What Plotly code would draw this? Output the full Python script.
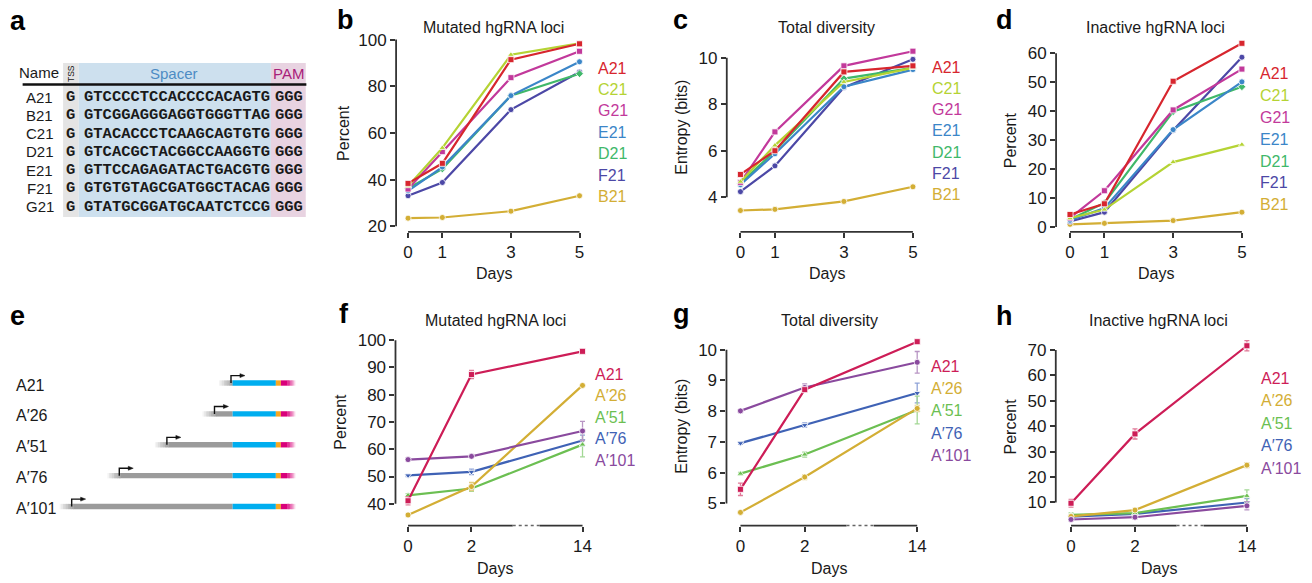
import plotly.graph_objects as go

W, H = 1312, 583
SANS = "Liberation Sans, Arial, sans-serif"
MONO = "Liberation Mono, Courier New, monospace"

# ---------------- data ----------------
days_top = [0, 1, 3, 5]
lines_top = ["A21", "C21", "G21", "E21", "D21", "F21", "B21"]
mutated_top = [
    [38.4, 47.0, 91.4, 98.2],   # A21
    [37.2, 53.6, 93.5, 98.4],   # C21
    [36.0, 52.0, 83.7, 95.0],   # G21
    [35.2, 45.4, 76.0, 90.5],   # E21
    [36.2, 44.6, 76.0, 85.4],   # D21
    [33.1, 38.8, 70.0, 86.1],   # F21
    [23.5, 23.8, 26.5, 33.1],   # B21
]
diversity_top = [
    [4.98, 6.00, 9.39, 9.65],
    [4.67, 6.23, 8.96, 9.56],
    [4.64, 6.81, 9.65, 10.28],
    [4.54, 5.87, 8.75, 9.49],
    [4.60, 5.99, 9.10, 9.56],
    [4.24, 5.35, 8.72, 9.93],
    [3.43, 3.48, 3.82, 4.45],
]
inactive_top = [
    [4.3, 8.0, 50.3, 63.4],
    [3.0, 6.0, 22.4, 28.4],
    [3.1, 12.5, 40.4, 54.5],
    [2.3, 6.5, 33.6, 50.1],
    [2.6, 8.3, 39.8, 48.4],
    [1.9, 5.1, 33.4, 58.6],
    [0.9, 1.25, 2.2, 5.1],
]

days_bottom = [0, 2, 14]
lines_bottom = ["A21", "A\u203226", "A\u203251", "A\u203276", "A\u2032101"]
mutated_bottom = [
    [41.1, 87.4, 95.9],
    [35.9, 46.3, 83.4],
    [43.1, 45.6, 61.7],
    [50.4, 51.7, 63.2],
    [56.2, 57.4, 66.7],
]
mutated_bottom_err = [
    [1.5, 1.5, 0.8],
    [0.5, 1.5, 0.6],
    [0.6, 1.0, 4.5],
    [0.4, 1.0, 2.0],
    [0.5, 0.6, 3.5],
]
diversity_bottom = [
    [5.46, 8.70, 10.26],
    [4.71, 5.86, 8.09],
    [5.97, 6.59, 8.04],
    [6.96, 7.55, 8.59],
    [8.01, 8.77, 9.59],
]
diversity_bottom_err = [
    [0.20, 0.05, 0.06],
    [0.04, 0.08, 0.10],
    [0.04, 0.08, 0.45],
    [0.04, 0.07, 0.32],
    [0.04, 0.12, 0.35],
]
inactive_bottom = [
    [9.7, 37.0, 71.7],
    [4.5, 7.0, 24.7],
    [5.1, 5.8, 12.6],
    [4.4, 5.5, 10.0],
    [3.3, 4.2, 8.7],
]
inactive_bottom_err = [
    [1.5, 2.0, 2.0],
    [0.4, 0.5, 1.0],
    [0.8, 0.6, 2.4],
    [0.5, 0.5, 1.5],
    [0.5, 0.6, 1.6],
]

table_names = ["A21", "B21", "C21", "D21", "E21", "F21", "G21"]
table_tss = ["G", "G", "G", "G", "G", "G", "G"]
table_spacers = [
    "GTCCCCTCCACCCCACAGTG",
    "GTCGGAGGGAGGTGGGTTAG",
    "GTACACCCTCAAGCAGTGTG",
    "GTCACGCTACGGCCAAGGTG",
    "GTTCCAGAGATACTGACGTG",
    "GTGTGTAGCGATGGCTACAG",
    "GTATGCGGATGCAATCTCCG",
]
table_pams = ["GGG", "GGG", "GGG", "GGG", "GGG", "GGG", "GGG"]

construct_names = ["A21", "A\u203226", "A\u203251", "A\u203276", "A\u2032101"]
construct_lengths = [21, 26, 51, 76, 101]

# ---------------- styles ----------------
colors_top = ["#d7262e", "#b5d334", "#c2399b", "#3b86c8", "#40b86a", "#4c48a6", "#d3ae35"]
symbols_top = ["square", "triangle-up", "square", "circle", "diamond", "circle", "circle"]
colors_bottom = ["#cd1d57", "#d3ae35", "#6cbf52", "#3f62b5", "#8a4a9e"]
err_colors_bottom = ["#e07a98", "#e3cc7e", "#a3d895", "#8fa3d8", "#b895c4"]
symbols_bottom = ["square", "circle", "triangle-up", "triangle-down", "circle"]
bottom_pos = {0: 0, 2: 2, 14: 5.5}   # broken axis: 14 drawn closer


def X(px):
    return px / W


def Y(py):
    return 1 - py / H


def cal(p0, p1, va, pa, vb, pb):
    k = (vb - va) / (pb - pa)
    return [va + (p0 - pa) * k, va + (p1 - pa) * k]


shapes = []
annotations = []


def rect(x0, y0, x1, y1, color, opacity=1.0):
    shapes.append(dict(type="rect", xref="paper", yref="paper",
                       x0=X(x0), x1=X(x1), y0=Y(y1), y1=Y(y0),
                       fillcolor=color, opacity=opacity, line=dict(width=0), layer="below"))


def txt(px, py, s, size, color="#1a1a1a", xa="center", ya="middle", family=SANS, angle=0):
    annotations.append(dict(x=X(px), y=Y(py), xref="paper", yref="paper", text=s,
                            showarrow=False, xanchor=xa, yanchor=ya, textangle=angle,
                            font=dict(family=family, size=size, color=color)))


fig = go.Figure()

panels = [
    dict(i=1, xd=(397.3, 592), xc=(0, 409.3, 5, 581.3), yd=(233.3, 30), yc=(100, 39.0, 20, 227.7),
         yt=[20, 40, 60, 80, 100], top=True, title="Mutated hgRNA loci", tx=495, ytitle="Percent",
         ytx=345, data=mutated_top, leg=(598.3, 67.7, 21.7)),
    dict(i=2, xd=(729, 925), xc=(0, 742.7, 5, 915.7), yd=(233.3, 30), yc=(10, 57.3, 4, 198.3),
         yt=[4, 6, 8, 10], top=True, title="Total diversity", tx=829.3, ytitle="Entropy (bits)",
         ytx=683.3, data=diversity_top, leg=(933.3, 66.7, 21.5)),
    dict(i=3, xd=(1059.3, 1255), xc=(0, 1073.3, 5, 1245.7), yd=(233.3, 30), yc=(60, 52.7, 0, 228.3),
         yt=[0, 10, 20, 30, 40, 50, 60], top=True, title="Inactive hgRNA loci", tx=1159,
         ytitle="Percent", ytx=1013.3, data=inactive_top, leg=(1261.7, 73.3, 22.1)),
    dict(i=4, xd=(396.7, 592), xc=(0, 409.3, 5.5, 584.3), yd=(530, 335), yc=(100, 342.7, 40, 508.0),
         yt=[40, 50, 60, 70, 80, 90, 100], top=False, title="Mutated hgRNA loci", tx=496.7,
         ytitle="Percent", ytx=341.7, data=mutated_bottom, err=mutated_bottom_err,
         leg=(595, 377.3, 21.7)),
    dict(i=5, xd=(728.7, 925), xc=(0, 742.7, 5.5, 920), yd=(530, 335), yc=(10, 352.3, 5, 507.7),
         yt=[5, 6, 7, 8, 9, 10], top=False, title="Total diversity", tx=831.7,
         ytitle="Entropy (bits)", ytx=683.3, data=diversity_bottom, err=diversity_bottom_err,
         leg=(931.7, 369, 22.6)),
    dict(i=6, xd=(1059, 1258), xc=(0, 1074.3, 5.5, 1250.7), yd=(530, 335), yc=(70, 352.7, 10, 506.7),
         yt=[10, 20, 30, 40, 50, 60, 70], top=False, title="Inactive hgRNA loci", tx=1161.7,
         ytitle="Percent", ytx=1013.3, data=inactive_bottom, err=inactive_bottom_err,
         leg=(1262.7, 381, 22.8)),
]

layout_axes = {}
for p in panels:
    i = p["i"]
    xa = "x" if i == 1 else f"x{i}"
    ya = "y" if i == 1 else f"y{i}"
    xkey = "xaxis" if i == 1 else f"xaxis{i}"
    ykey = "yaxis" if i == 1 else f"yaxis{i}"
    xrng = cal(p["xd"][0], p["xd"][1], *p["xc"])
    yrng = cal(p["yd"][0], p["yd"][1], *p["yc"])
    common = dict(showgrid=False, zeroline=False, showline=False, ticks="outside", ticklen=5,
                  tickwidth=1.6, tickcolor="#333", fixedrange=True,
                  tickfont=dict(family=SANS, size=17, color="#1a1a1a"))
    if p["top"]:
        xt = dict(tickvals=days_top, ticktext=[str(d) for d in days_top])
    else:
        xt = dict(tickvals=[bottom_pos[d] for d in days_bottom], ticktext=[str(d) for d in days_bottom])
    layout_axes[xkey] = dict(domain=[X(p["xd"][0]), X(p["xd"][1])], range=xrng, anchor=ya,
                             tickmode="array", **xt, **common)
    layout_axes[ykey] = dict(domain=[Y(p["yd"][0]), Y(p["yd"][1])], range=yrng, anchor=xa,
                             tickmode="array", tickvals=p["yt"], ticktext=[str(v) for v in p["yt"]],
                             **common)

    axc = "#333"
    shapes.append(dict(type="line", xref=f"{xa} domain", yref=ya, x0=0, x1=0,
                       y0=min(p["yt"]), y1=max(p["yt"]), line=dict(color=axc, width=1.8)))
    if p["top"]:
        shapes.append(dict(type="line", xref=xa, yref=f"{ya} domain", x0=0, x1=5, y0=0, y1=0,
                           line=dict(color=axc, width=1.8)))
    else:
        shapes.append(dict(type="line", xref=xa, yref=f"{ya} domain", x0=0, x1=3.3, y0=0, y1=0,
                           line=dict(color=axc, width=1.8)))
        shapes.append(dict(type="line", xref=xa, yref=f"{ya} domain", x0=3.3, x1=4.15, y0=0, y1=0,
                           line=dict(color="#666", width=1.6, dash="dot")))
        shapes.append(dict(type="line", xref=xa, yref=f"{ya} domain", x0=4.15, x1=5.5, y0=0, y1=0,
                           line=dict(color=axc, width=1.8)))

    if p["top"]:
        names, cols, syms = lines_top, colors_top, symbols_top
        for k in list(range(len(names)))[::-1]:
            fig.add_trace(go.Scatter(
                x=days_top, y=p["data"][k], xaxis=xa, yaxis=ya, mode="lines+markers",
                line=dict(color=cols[k], width=2.2),
                marker=dict(symbol=syms[k], size=6, color=cols[k], line=dict(color="white", width=0.8)),
                showlegend=False, cliponaxis=False, name=names[k]))
    else:
        names, cols, syms = lines_bottom, colors_bottom, symbols_bottom
        for k in [3, 2, 1, 4, 0]:
            fig.add_trace(go.Scatter(
                x=[bottom_pos[d] for d in days_bottom], y=p["data"][k], xaxis=xa, yaxis=ya,
                mode="lines+markers",
                line=dict(color=cols[k], width=2.2),
                marker=dict(symbol=syms[k], size=6, color=cols[k], line=dict(color="white", width=0.8)),
                error_y=dict(type="data", array=p["err"][k], color=err_colors_bottom[k],
                             thickness=1.3, width=2.5),
                showlegend=False, cliponaxis=False, name=names[k]))

    ttl_y = 26.7 if p["top"] else 322.7
    txt(p["tx"], ttl_y, p["title"], 16)
    x0px, x1px = p["xc"][1], p["xc"][3]
    txt((x0px + x1px) / 2, 275 if p["top"] else 573, "Days", 16)
    yv = p["yc"]
    k = (yv[3] - yv[1]) / (yv[2] - yv[0])
    py_top = yv[1] + (max(p["yt"]) - yv[0]) * k
    py_bot = yv[1] + (min(p["yt"]) - yv[0]) * k
    txt(p["ytx"], (py_top + py_bot) / 2, p["ytitle"], 16, angle=-90)
    lx, ly, ls = p["leg"]
    for j, nm in enumerate(names):
        txt(lx, ly + j * ls, nm, 16, color=cols[j], xa="left")

# ---------------- panel a: table ----------------
tab_top, tab_bot = 62.7, 218.3
rect(63.3, tab_top, 79.0, tab_bot, "#e4e4e4")
rect(79.0, tab_top, 271.7, tab_bot, "#cde0ee")
rect(271.7, tab_top, 306.7, tab_bot, "#e8d3e1")
shapes.append(dict(type="line", xref="paper", yref="paper", x0=X(22.7), x1=X(307.3),
                   y0=Y(84.3), y1=Y(84.3), line=dict(color="#111", width=2.5)))
txt(39, 72.5, "Name", 15)
txt(71, 73, "TSS", 8.5, angle=-90)
txt(175, 73.5, "Spacer", 15, color="#4d8cc4")
txt(289.3, 73.5, "PAM", 15, color="#a8207a")
for r in range(len(table_names)):
    yy = 97.2 + r * 18.43
    txt(40, yy, table_names[r], 15)
    txt(71, yy, "<b>" + table_tss[r] + "</b>", 15.5, family=MONO)
    txt(82.3, yy, "<b>" + table_spacers[r] + "</b>", 15.5, family=MONO, xa="left")
    txt(289.5, yy, "<b>" + table_pams[r] + "</b>", 15.5, family=MONO)

# ---------------- panel e: constructs ----------------
row_y0, row_dy = 386.0, 31.2
spacer_x0, spacer_x1 = 233.3, 276.7
half = 2.7
for r, (nm, ln) in enumerate(zip(construct_names, construct_lengths)):
    cy = row_y0 + r * row_dy
    txt(14, cy + 2, nm, 16, xa="left")
    prom = spacer_x0 - 1.6 - 1.91 * (ln - 21) - (7 if ln > 21 else 0)
    gs, ge = prom - 12, prom + 1.5
    n = 8
    for s in range(n):
        rect(gs + s * (ge - gs) / n, cy - half, gs + (s + 1) * (ge - gs) / n + 0.3, cy + half,
             "#9b9b9b", opacity=(s + 1) / (n + 1))
    if ge < spacer_x0:
        rect(ge, cy - half, spacer_x0, cy + half, "#9b9b9b")
    rect(spacer_x0, cy - half, spacer_x1, cy + half, "#00aeef")
    rect(spacer_x1, cy - half, 281.7, cy + half, "#f7a823")
    rect(281.7, cy - half, 288, cy + half, "#d9017a")
    m = 6
    for s in range(m):
        rect(288 + s * 8 / m, cy - half, 288 + (s + 1) * 8 / m + 0.3, cy + half, "#d9017a",
             opacity=1 - (s + 1) / (m + 1))
    top = cy - 7.5
    shapes.append(dict(type="path", xref="paper", yref="paper",
                       path=f"M {X(prom)},{Y(cy)} L {X(prom)},{Y(top)} L {X(prom + 10)},{Y(top)}",
                       line=dict(color="#111", width=1.4)))
    shapes.append(dict(type="path", xref="paper", yref="paper",
                       path=f"M {X(prom + 9)},{Y(top - 2)} L {X(prom + 14)},{Y(top)} "
                            f"L {X(prom + 9)},{Y(top + 2)} Z",
                       fillcolor="#111", line=dict(color="#111", width=0.5)))

# ---------------- panel letters ----------------
for lab, lx, ly in [("a", 18, 20), ("b", 347, 19), ("c", 683, 19), ("d", 1008, 19),
                    ("e", 18, 318), ("f", 345, 316), ("g", 684, 316), ("h", 1008, 318)]:
    txt(lx, ly, "<b>" + lab + "</b>", 27, color="#000")

fig.update_layout(
    width=W, height=H, autosize=False,
    margin=dict(l=0, r=0, t=0, b=0),
    paper_bgcolor="white", plot_bgcolor="rgba(0,0,0,0)",
    shapes=shapes, annotations=annotations, showlegend=False,
    font=dict(family=SANS),
    **layout_axes,
)

fig.write_html("out.html", config={"displayModeBar": False},
               post_script="document.body.style.margin='0px';document.body.style.overflow='hidden';")
